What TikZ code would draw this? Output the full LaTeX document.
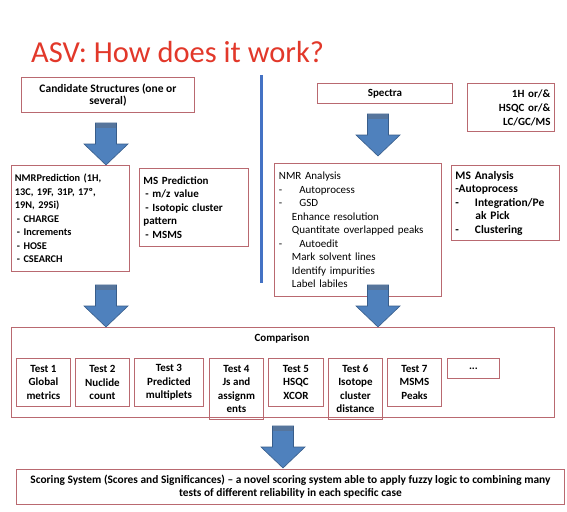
\documentclass[tikz,border=0pt]{standalone}
\usepackage{fontspec}
\setmainfont{Carlito}
\definecolor{boxred}{RGB}{185,105,112}
\definecolor{titlered}{RGB}{226,56,42}
\definecolor{arrowblue}{RGB}{79,129,189}
\definecolor{arrowdark}{RGB}{56,93,138}
\definecolor{lineblue}{RGB}{68,114,196}
\tikzset{
  box/.style={draw=boxred, line width=0.9pt, anchor=north west, inner sep=0pt, font=\fontsize{11}{13.5}\selectfont},
  boldbox/.style={box, font=\fontsize{11}{13.5}\selectfont\bfseries},
  testbox/.style={boldbox, align=center, minimum height=48pt},
  barrow/.pic={
    \path[fill=arrowblue, draw=arrowdark, line width=0.6pt]
      (-10.5,-42) -- (10.5,-42) -- (10.5,-21) -- (22,-21) -- (0,0) -- (-22,-21) -- (-10.5,-21) -- cycle;
    \path[fill=arrowdark!85] (-10.2,-41.7) rectangle (10.2,-37.5);
  }
}
\begin{document}
\begin{tikzpicture}[x=1pt,y=-1pt]
\useasboundingbox (0,0) rectangle (567,511);
\fill[white] (0,0) rectangle (567,511);

% title
\node[anchor=base west, inner sep=0pt, text=titlered, font=\fontsize{30.5}{32}\selectfont] (title) at (31,63) {ASV: How does it work?};

% divider
\coordinate (divtop) at (261,75);
\coordinate (divbot) at (261,283);
\draw[lineblue, line width=3pt] (divtop) -- (divbot);

% top row
\node[boldbox, minimum width=173pt, minimum height=35pt, align=center, font=\fontsize{11.5}{11.8}\selectfont\bfseries] (cand) at (21,77) {Candidate Structures (one or\\several)};
\node[boldbox, minimum width=135pt, minimum height=20pt, align=center] (spec) at (317,83) {Spectra};
\node[boldbox, minimum width=87pt, minimum height=48pt, align=right, text width=79pt, font=\fontsize{11}{14}\selectfont\bfseries] (oneh) at (467,83) {1H or/\&\\HSQC or/\&\\LC/GC/MS};

% second row
\node[boldbox, minimum width=118pt, minimum height=106pt, align=left, text width=111pt, font=\fontsize{10.3}{13.5}\selectfont\bfseries] (nmrpred) at (11,165)
 {NMRPrediction (1H,\\13C, 19F, 31P, 17º,\\19N, 29Si)\\\hspace*{2pt}- CHARGE\\\hspace*{2pt}- Increments\\\hspace*{2pt}- HOSE\\\hspace*{2pt}- CSEARCH};
\node[boldbox, minimum width=109pt, minimum height=78pt, align=left, text width=101pt] (mspred) at (139,168)
 {MS Prediction\\\hspace*{2pt}- m/z value\\\hspace*{2pt}- Isotopic cluster\\pattern\\\hspace*{2pt}- MSMS};
\node[box, minimum width=167pt, minimum height=133pt, align=left, text width=158pt] (nmrana) at (274,163)
 {NMR Analysis\\-\hspace*{17pt}Autoprocess\\-\hspace*{17pt}GSD\\\hspace*{13pt}Enhance resolution\\\hspace*{13pt}Quantitate overlapped peaks\\-\hspace*{17pt}Autoedit\\\hspace*{13pt}Mark solvent lines\\\hspace*{13pt}Identify impurities\\\hspace*{13pt}Label labiles};
\node[boldbox, minimum width=108pt, minimum height=75pt, align=left, text width=100pt, font=\fontsize{11.5}{13.5}\selectfont\bfseries] (msana) at (451,165)
 {MS Analysis\\-Autoprocess\\-\hspace*{16pt}Integration/Pe\\\hspace*{20pt}ak Pick\\-\hspace*{16pt}Clustering};

% comparison
\node[box, minimum width=543pt, minimum height=90pt] (comp) at (11,327) {};
\node[anchor=base, inner sep=0pt, font=\fontsize{11}{13.5}\selectfont\bfseries] (comptitle) at (282,341) {Comparison};
\node[testbox, minimum width=54pt] (t1) at (16,358) {Test 1\\Global\\metrics};
\node[testbox, minimum width=54pt] (t2) at (75,358) {Test 2\\Nuclide\\count};
\node[testbox, minimum width=69pt] (t3) at (134,358) {Test 3\\Predicted\\multiplets};
\node[testbox, minimum width=54pt, minimum height=61pt] (t4) at (209,358) {Test 4\\Js and\\assignm\\ents};
\node[testbox, minimum width=55pt] (t5) at (268,358) {Test 5\\HSQC\\XCOR};
\node[testbox, minimum width=54pt, minimum height=61pt] (t6) at (328,358) {Test 6\\Isotope\\cluster\\distance};
\node[testbox, minimum width=54pt] (t7) at (387,358) {Test 7\\MSMS\\Peaks};
\node[testbox, minimum width=52pt, minimum height=20pt] (tdots) at (447,358) {...};

% scoring
\node[boldbox, minimum width=548pt, minimum height=35pt, align=center, font=\fontsize{11.4}{13}\selectfont\bfseries] (score) at (16,469)
 {Scoring System (Scores and Significances) -- a novel scoring system able to apply fuzzy logic to combining many\\tests of different reliability in each specific case};

% block arrows (tip on target box)
\coordinate (a1) at ([xshift=95pt]nmrpred.north west);
\coordinate (a2) at (378,156);
\coordinate (a3) at ([xshift=95pt]comp.north west);
\coordinate (a4) at ([xshift=367pt]comp.north west);
\coordinate (a5) at ([xshift=267pt,yshift=1pt]score.north west);
\pic at (a1) {barrow};
\pic at (a2) {barrow};
\pic at (a3) {barrow};
\pic at (a4) {barrow};
\pic at (a5) {barrow};
\end{tikzpicture}
\end{document}
